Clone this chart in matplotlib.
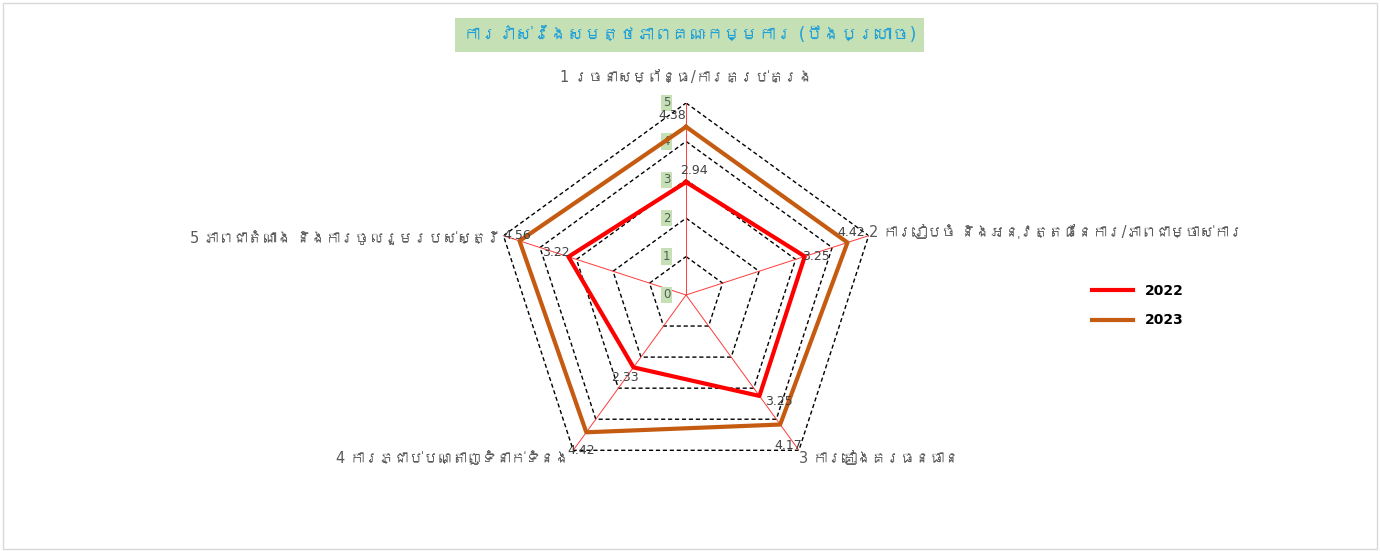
import matplotlib
matplotlib.use("Agg")
import matplotlib.pyplot as plt
import numpy as np
from matplotlib import font_manager
from matplotlib.patches import Rectangle

title = "ការវាស់វែងសមត្ថភាពគណៈកម្មការ (បឹងប្រហោច)"
categories = ["1 រចនាសម្ព័ន្ធ/ការគ្រប់គ្រង",
              "2 ការរៀបចំ និងអនុវត្តផែនការ/ភាពជាម្ចាស់ការ",
              "3 ការគៀងគរធនធាន",
              "4 ការភ្ជាប់បណ្តាញទំនាក់ទំនង",
              "5 ភាពជាតំណាង និងការចូលរួមរបស់ស្ត្រី"]
v2022 = [2.94, 3.25, 3.25, 2.33, 3.22]
v2023 = [4.38, 4.42, 4.17, 4.42, 4.56]
rings = [1, 2, 3, 4, 5]


# look for any installed font that covers Khmer, else fall back
def khmer_font():
    try:
        from fontTools.ttLib import TTFont
    except ImportError:
        return None
    for f in font_manager.fontManager.ttflist:
        try:
            cmap = TTFont(f.fname, fontNumber=0, lazy=True).getBestCmap()
        except Exception:
            continue
        if cmap and 0x1780 in cmap:
            return f.name
    return None

kf = khmer_font()
fams = ["DejaVu Sans", kf] if kf else ["DejaVu Sans"]
plt.rcParams["font.family"] = fams

fig = plt.figure(figsize=(13.8, 5.51), dpi=100)
fig.patches.append(Rectangle((0.002, 0.004), 0.996, 0.99, transform=fig.transFigure,
                             fill=False, edgecolor="#d9d9d9", lw=1))

ax = fig.add_axes([0.3580, 0.1162, 0.2783, 0.6969], projection="polar")
ax.set_theta_zero_location("N")
ax.set_theta_direction(-1)
ax.set_ylim(0, 5)
ax.grid(False)
ax.spines["polar"].set_visible(False)
ax.set_xticks([])
ax.set_yticks([])
ax.patch.set_visible(False)

n = len(categories)
theta = np.linspace(0, 2 * np.pi, n, endpoint=False)
tc = np.append(theta, theta[0])

for r in rings:
    ax.plot(tc, [r] * (n + 1), color="black", ls=(0, (3, 2)), lw=1, zorder=1)
for t in theta:
    ax.plot([t, t], [0, 5], color="#ff3b3b", lw=0.7, zorder=1)

# ring labels along the top spoke
for r in [0] + rings:
    ax.annotate(str(r), (0, r), xytext=(-14, 0), textcoords="offset points",
                ha="center", va="center", fontsize=8.5, color="#595959",
                bbox=dict(boxstyle="square,pad=0.15", fc="#c5e0b4", ec="none"))

ax.plot(tc, v2022 + v2022[:1], color="#ff0000", lw=3, label="2022", zorder=3)
ax.plot(tc, v2023 + v2023[:1], color="#c55a11", lw=3, label="2023", zorder=3)

off22 = [(6, 8), (8, 0), (14, -4), (-6, -7), (-9, 3)]
off23 = [(-10, 8), (3, 7), (6, -15), (-4, -13), (-2, 4)]
for t, v, o in zip(theta, v2022, off22):
    ax.annotate(f"{v:g}", (t, v), xytext=o, textcoords="offset points",
                ha="center", va="center", fontsize=9, color="#404040", zorder=5)
for t, v, o in zip(theta, v2023, off23):
    ax.annotate(f"{v:g}", (t, v), xytext=o, textcoords="offset points",
                ha="center", va="center", fontsize=9, color="#404040", zorder=5)

# category labels
cat_pos = [((0, 18), "center", "center"), ((0, 2), "left", "center"),
           ((0, -6), "left", "center"), ((-3, -6), "right", "center"),
           ((-2, -2), "right", "center")]
for t, lab, (o, ha, va) in zip(theta, categories, cat_pos):
    ax.annotate(lab, (t, 5), xytext=o, textcoords="offset points",
                ha=ha, va=va, fontsize=10.5, color="#595959")

fig.text(0.4995, 0.937, title, ha="center", va="center", fontsize=12.5,
         color="#1fa0d8",
         bbox=dict(boxstyle="square,pad=0.45", fc="#c5e0b4", ec="none"))

leg = fig.legend(loc="center left", bbox_to_anchor=(0.782, 0.445), frameon=False,
                 fontsize=10, handlelength=3, labelspacing=1.1)
for txt in leg.get_texts():
    txt.set_fontweight("bold")

fig.savefig("out.png", dpi=100)
